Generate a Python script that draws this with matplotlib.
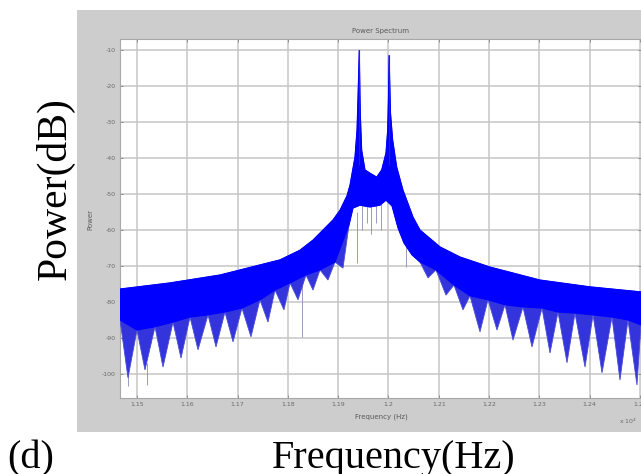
import numpy as np
import matplotlib.pyplot as plt
from matplotlib.patches import Rectangle

# upper edge of the trace (frequency in x10^4 units, power in dB)
upper_freq = [1.14662, 1.15656, 1.16650, 1.17445, 1.17843, 1.18241, 1.18499, 1.18897,
              1.19036, 1.19175, 1.19235, 1.19334, 1.19374, 1.19394, 1.19419, 1.19439,
              1.19467, 1.19533, 1.19632, 1.19765, 1.19865, 1.19950, 1.19984, 1.20000,
              1.20012, 1.20040, 1.20083, 1.20163, 1.20288, 1.20487, 1.20626, 1.21024,
              1.21421, 1.22018, 1.23012, 1.24006, 1.25020]
upper_db = [-76.4, -74.7, -72.5, -69.7, -68.3, -65.6, -62.8, -57.2,
            -54.5, -50.5, -47.5, -39.7, -32.2, -23.1, -10.0, -27.5,
            -37.8, -43.3, -44.2, -45.3, -43.3, -38.6, -32.2, -23.1,
            -11.4, -27.5, -35.0, -42.5, -48.9, -56.4, -60.0, -64.7,
            -67.5, -70.3, -73.9, -75.8, -77.2]

# lower skirt below the first carrier: where lobes meet, and the lobe tips
left_join_freq = [1.14662, 1.15000, 1.15358, 1.15716, 1.16054, 1.16412, 1.16749,
                  1.17087, 1.17445, 1.17744, 1.18042, 1.18360, 1.18638, 1.18936]
left_join_db = [-85.0, -87.8, -86.9, -85.6, -84.2, -83.6, -82.8,
                -81.7, -79.4, -76.7, -74.7, -72.5, -71.1, -68.9]
left_tip_freq = [1.14821, 1.15159, 1.15517, 1.15875, 1.16213, 1.16571, 1.16909,
                 1.17266, 1.17604, 1.17922, 1.18201, 1.18499, 1.18797, 1.19095]
left_tip_db = [-101.1, -98.9, -98.1, -95.6, -93.3, -92.5, -91.1,
               -89.7, -85.6, -82.2, -79.4, -76.7, -73.9, -70.6]

# bottom of the trace between the two carriers
center_freq = [1.19215, 1.19294, 1.19433, 1.19632, 1.19831, 1.19950, 1.20070,
               1.20189, 1.20308, 1.20467]
center_db = [-58.6, -53.9, -53.1, -53.6, -53.1, -51.7, -53.3,
             -59.4, -63.6, -66.9]

# lower skirt above the second carrier
right_join_freq = [1.20626, 1.20944, 1.21302, 1.21620, 1.21978, 1.22316, 1.22674,
                   1.23052, 1.23370, 1.23708, 1.24066, 1.24443, 1.24761, 1.25020]
right_join_db = [-68.9, -71.1, -75.3, -78.3, -79.4, -80.8, -81.4,
                 -81.7, -82.8, -83.1, -83.6, -84.2, -85.0, -86.4]
right_tip_freq = [1.20785, 1.21143, 1.21481, 1.21819, 1.22157, 1.22475, 1.22853,
                  1.23211, 1.23549, 1.23907, 1.24245, 1.24602, 1.24940]
right_tip_db = [-73.3, -78.1, -82.2, -88.3, -87.8, -90.6, -92.5,
                -94.2, -96.9, -98.1, -99.7, -101.7, -103.1]

# single bins dropping out below the trace
spike_freq = [1.14821, 1.15199, 1.18280, 1.19374, 1.19473, 1.19573, 1.19652,
              1.19751, 1.19851, 1.20348]
spike_top_db = [-100.0, -97.0, -74.0, -55.0, -52.0, -52.0, -52.0, -52.0, -52.0, -63.0]
spike_bottom_db = [-103.5, -103.0, -89.7, -69.2, -60.0, -58.0, -61.0, -58.0, -60.0, -70.3]

# the two carriers
peak_freq = [1.19419, 1.20012]
peak_db = [-10.0, -11.4]

xtick_values = [1.15, 1.16, 1.17, 1.18, 1.19, 1.20, 1.21, 1.22, 1.23, 1.24, 1.25]
xtick_labels = ['1.15', '1.16', '1.17', '1.18', '1.19', '1.2', '1.21', '1.22',
                '1.23', '1.24', '1.25']
ytick_values = [-10, -20, -30, -40, -50, -60, -70, -80, -90, -100]
ytick_labels = ['-10', '-20', '-30', '-40', '-50', '-60', '-70', '-80', '-90', '-100']


def lobed_edge(join_f, join_db, tip_f, tip_db):
    """Alternate join / tip points into one outline."""
    f, p = [], []
    for i in range(len(join_f)):
        f.append(join_f[i])
        p.append(join_db[i])
        if i < len(tip_f):
            f.append(tip_f[i])
            p.append(tip_db[i])
    return f, p


def draw_spectrum(ax):
    lf, lp = lobed_edge(left_join_freq, left_join_db, left_tip_freq, left_tip_db)
    rf, rp = lobed_edge(right_join_freq, right_join_db, right_tip_freq, right_tip_db)
    lower_f = np.array(lf + center_freq + rf)
    lower_p = np.array(lp + center_db + rp)
    core_f = np.array(left_join_freq + center_freq + right_join_freq)
    core_p = np.array(left_join_db + center_db + right_join_db)

    ax.vlines(spike_freq, spike_bottom_db, spike_top_db, color='#8a8ab4', lw=0.6, zorder=2)
    ax.fill(np.r_[upper_freq, lower_f[::-1]], np.r_[upper_db, lower_p[::-1]],
            facecolor='#3434dc', edgecolor='#4a4ad8', lw=0.6, zorder=3)
    ax.fill(np.r_[upper_freq, core_f[::-1]], np.r_[upper_db, core_p[::-1]],
            facecolor='#0000ff', edgecolor='#0000ff', lw=0.8, zorder=4)
    ax.vlines(peak_freq, -42, peak_db, color='#2c2c7a', lw=0.8, zorder=5)


fig = plt.figure(figsize=(6.41, 4.74), dpi=100)
fig.patch.set_facecolor('white')
W, H = 641, 474

# grey figure window behind the axes
fig.add_artist(Rectangle((77 / W, 1 - 432 / H), 564 / W, 422 / H, transform=fig.transFigure,
                         facecolor='#cdcdcd', edgecolor='none', zorder=-1))

ax = fig.add_axes([120 / W, 1 - 398 / H, 521 / W, 359 / H])
ax.set_facecolor('white')
ax.set_axisbelow(True)
draw_spectrum(ax)

ax.set_xlim(1.14662, 1.25020)
ax.set_ylim(-106.7, -6.9)
ax.set_xticks(xtick_values)
ax.set_xticklabels(xtick_labels)
ax.set_yticks(ytick_values)
ax.set_yticklabels(ytick_labels)
ax.grid(True, color='#c6c6c6', lw=1.1)
ax.tick_params(labelsize=4.5, colors='#777777', labelcolor='#6a6a6a', length=2,
               width=0.5, direction='in', pad=3, top=True, right=True)
for s in ax.spines.values():
    s.set_color('#a8a8a8')
    s.set_linewidth(0.8)

fig.text(381 / W, 1 - 31 / H, 'Power Spectrum', fontsize=5, color='#5a5a5a',
         ha='center', va='center')
fig.text(381 / W, 1 - 417 / H, 'Frequency (Hz)', fontsize=5, color='#5a5a5a',
         ha='center', va='center')
fig.text(90 / W, 1 - 220 / H, 'Power', fontsize=5, color='#5a5a5a',
         ha='center', va='center', rotation=90)
fig.text(628 / W, 1 - 421 / H, 'x 10$^{4}$', fontsize=4.5, color='#6a6a6a',
         ha='center', va='center')

# panel labels
serif = 'Liberation Serif'
fig.text(55 / W, 1 - 189 / H, 'Power(dB)', fontsize=30, family=serif,
         ha='center', va='center', rotation=90)
fig.text(394 / W, 1 - 468 / H, 'Frequency(Hz)', fontsize=29, family=serif,
         ha='center', va='baseline')
fig.text(31 / W, 1 - 468 / H, '(d)', fontsize=29, family=serif,
         ha='center', va='baseline')

fig.savefig('out.png', dpi=100)
